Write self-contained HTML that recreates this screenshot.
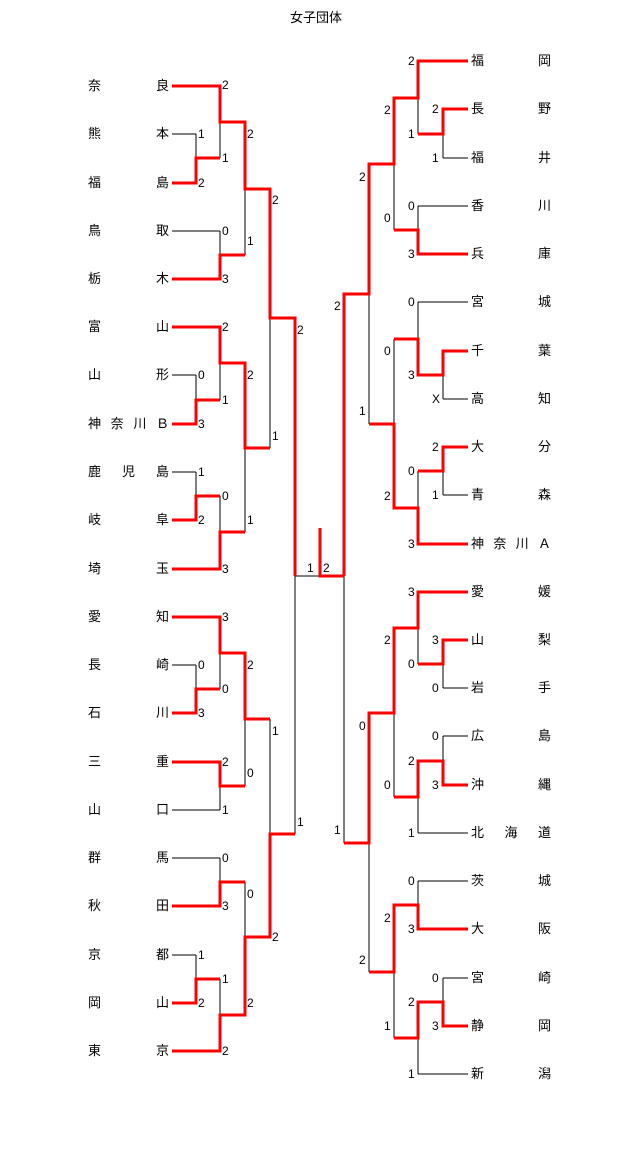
<!DOCTYPE html>
<html><head><meta charset="utf-8"><style>
body{margin:0;background:#fff;width:640px;height:1157px;position:relative;overflow:hidden;font-family:"Liberation Sans","Noto Sans CJK JP",sans-serif;}
.t{position:absolute;font-size:13px;line-height:14px;color:#000;display:flex;justify-content:space-between;}
.l{left:88px;width:81px;}
.r{left:471px;width:80px;}
.s{position:absolute;font-size:12px;line-height:12px;color:#000;}
svg{position:absolute;left:0;top:0}
</style></head><body>
<div class="t" style="left:290px;top:11px">女子団体</div>
<svg width="640" height="1157" fill="none">
<g stroke="#000" stroke-width="1">
<path d="M172 86H220M172 134H196M172 183H196M172 231H220M172 279H220M172 327H220M172 375H196M172 424H196M172 472H196M172 520H196M172 569H220M172 617H220M172 665H196M172 713H196M172 762H220M172 810H220M172 858H220M172 906H220M172 955H196M172 1003H196M172 1051H220"/>
<path d="M196 134V183M220 86V158M220 231V279M245 122V255M196 375V424M220 327V400M196 472V520M220 496V569M245 363V532M270 189V448M196 665V713M220 617V689M220 762V810M245 653V786M220 858V906M196 955V1003M220 979V1051M245 882V1015M270 719V937M295 318V834M295 576H320"/>
<path d="M418 61H468M443 109H468M443 158H468M418 206H468M418 254H468M418 302H468M443 351H468M443 399H468M443 447H468M443 495H468M418 544H468M418 592H468M443 640H468M443 688H468M443 736H468M443 785H468M418 833H468M418 881H468M418 929H468M443 978H468M443 1026H468M418 1074H468"/>
<path d="M443 109V158M418 61V134M418 206V254M394 98V230M443 351V399M418 302V375M443 447V495M418 471V544M394 339V508M369 164V424M443 640V688M418 592V664M443 736V785M418 761V833M394 628V797M418 881V929M443 978V1026M418 1002V1074M394 905V1038M369 713V972M344 294V843"/>
</g>
<g stroke="#f00" stroke-width="3" stroke-linejoin="miter">
<path d="M172 86H220V122H245V189H270V318H295V576"/>
<path d="M172 183H196V158H220"/>
<path d="M172 279H220V255H245"/>
<path d="M172 327H220V363H245V448H270"/>
<path d="M172 424H196V400H220"/>
<path d="M172 520H196V496H220"/>
<path d="M172 569H220V532H245"/>
<path d="M172 617H220V653H245V719H270"/>
<path d="M172 713H196V689H220"/>
<path d="M172 762H220V786H245"/>
<path d="M172 906H220V882H245"/>
<path d="M172 1003H196V979H220"/>
<path d="M172 1051H220V1015H245V937H270V834H295"/>
<path d="M320 528V576H344"/>
<path d="M468 61H418V98H394V164H369V294H344V576"/>
<path d="M468 109H443V134H418"/>
<path d="M468 254H418V230H394"/>
<path d="M468 351H443V375H418V339H394"/>
<path d="M468 447H443V471H418"/>
<path d="M468 544H418V508H394V424H369"/>
<path d="M468 592H418V628H394V713H369V843H344"/>
<path d="M468 640H443V664H418"/>
<path d="M468 785H443V761H418V797H394"/>
<path d="M468 929H418V905H394V972H369"/>
<path d="M468 1026H443V1002H418V1038H394"/>
</g>
</svg>
<!-- left teams -->
<div class="t l" style="top:79px"><span>奈</span><span>良</span></div>
<div class="t l" style="top:127px"><span>熊</span><span>本</span></div>
<div class="t l" style="top:176px"><span>福</span><span>島</span></div>
<div class="t l" style="top:224px"><span>鳥</span><span>取</span></div>
<div class="t l" style="top:272px"><span>栃</span><span>木</span></div>
<div class="t l" style="top:320px"><span>富</span><span>山</span></div>
<div class="t l" style="top:368px"><span>山</span><span>形</span></div>
<div class="t l" style="top:417px"><span>神</span><span>奈</span><span>川</span><span>Ｂ</span></div>
<div class="t l" style="top:465px"><span>鹿</span><span>児</span><span>島</span></div>
<div class="t l" style="top:513px"><span>岐</span><span>阜</span></div>
<div class="t l" style="top:562px"><span>埼</span><span>玉</span></div>
<div class="t l" style="top:610px"><span>愛</span><span>知</span></div>
<div class="t l" style="top:658px"><span>長</span><span>崎</span></div>
<div class="t l" style="top:706px"><span>石</span><span>川</span></div>
<div class="t l" style="top:755px"><span>三</span><span>重</span></div>
<div class="t l" style="top:803px"><span>山</span><span>口</span></div>
<div class="t l" style="top:851px"><span>群</span><span>馬</span></div>
<div class="t l" style="top:899px"><span>秋</span><span>田</span></div>
<div class="t l" style="top:948px"><span>京</span><span>都</span></div>
<div class="t l" style="top:996px"><span>岡</span><span>山</span></div>
<div class="t l" style="top:1044px"><span>東</span><span>京</span></div>
<!-- right teams -->
<div class="t r" style="top:54px"><span>福</span><span>岡</span></div>
<div class="t r" style="top:102px"><span>長</span><span>野</span></div>
<div class="t r" style="top:151px"><span>福</span><span>井</span></div>
<div class="t r" style="top:199px"><span>香</span><span>川</span></div>
<div class="t r" style="top:247px"><span>兵</span><span>庫</span></div>
<div class="t r" style="top:295px"><span>宮</span><span>城</span></div>
<div class="t r" style="top:344px"><span>千</span><span>葉</span></div>
<div class="t r" style="top:392px"><span>高</span><span>知</span></div>
<div class="t r" style="top:440px"><span>大</span><span>分</span></div>
<div class="t r" style="top:488px"><span>青</span><span>森</span></div>
<div class="t r" style="top:537px"><span>神</span><span>奈</span><span>川</span><span>Ａ</span></div>
<div class="t r" style="top:585px"><span>愛</span><span>媛</span></div>
<div class="t r" style="top:633px"><span>山</span><span>梨</span></div>
<div class="t r" style="top:681px"><span>岩</span><span>手</span></div>
<div class="t r" style="top:729px"><span>広</span><span>島</span></div>
<div class="t r" style="top:778px"><span>沖</span><span>縄</span></div>
<div class="t r" style="top:826px"><span>北</span><span>海</span><span>道</span></div>
<div class="t r" style="top:874px"><span>茨</span><span>城</span></div>
<div class="t r" style="top:922px"><span>大</span><span>阪</span></div>
<div class="t r" style="top:971px"><span>宮</span><span>崎</span></div>
<div class="t r" style="top:1019px"><span>静</span><span>岡</span></div>
<div class="t r" style="top:1067px"><span>新</span><span>潟</span></div>
<!-- left scores -->
<div class="s" style="left:198px;top:128px">1</div>
<div class="s" style="left:198px;top:177px">2</div>
<div class="s" style="left:198px;top:369px">0</div>
<div class="s" style="left:198px;top:418px">3</div>
<div class="s" style="left:198px;top:466px">1</div>
<div class="s" style="left:198px;top:514px">2</div>
<div class="s" style="left:198px;top:659px">0</div>
<div class="s" style="left:198px;top:707px">3</div>
<div class="s" style="left:198px;top:949px">1</div>
<div class="s" style="left:198px;top:997px">2</div>
<div class="s" style="left:222px;top:79px">2</div>
<div class="s" style="left:222px;top:152px">1</div>
<div class="s" style="left:222px;top:225px">0</div>
<div class="s" style="left:222px;top:273px">3</div>
<div class="s" style="left:222px;top:321px">2</div>
<div class="s" style="left:222px;top:394px">1</div>
<div class="s" style="left:222px;top:490px">0</div>
<div class="s" style="left:222px;top:563px">3</div>
<div class="s" style="left:222px;top:611px">3</div>
<div class="s" style="left:222px;top:683px">0</div>
<div class="s" style="left:222px;top:756px">2</div>
<div class="s" style="left:222px;top:804px">1</div>
<div class="s" style="left:222px;top:852px">0</div>
<div class="s" style="left:222px;top:900px">3</div>
<div class="s" style="left:222px;top:973px">1</div>
<div class="s" style="left:222px;top:1045px">2</div>
<div class="s" style="left:247px;top:128px">2</div>
<div class="s" style="left:247px;top:235px">1</div>
<div class="s" style="left:247px;top:369px">2</div>
<div class="s" style="left:247px;top:514px">1</div>
<div class="s" style="left:247px;top:659px">2</div>
<div class="s" style="left:247px;top:767px">0</div>
<div class="s" style="left:247px;top:888px">0</div>
<div class="s" style="left:247px;top:997px">2</div>
<div class="s" style="left:272px;top:194px">2</div>
<div class="s" style="left:272px;top:430px">1</div>
<div class="s" style="left:272px;top:725px">1</div>
<div class="s" style="left:272px;top:931px">2</div>
<div class="s" style="left:297px;top:324px">2</div>
<div class="s" style="left:297px;top:816px">1</div>
<div class="s" style="left:307px;top:562px">1</div>
<div class="s" style="left:323px;top:562px">2</div>
<!-- right scores -->
<div class="s" style="left:432px;top:103px">2</div>
<div class="s" style="left:432px;top:152px">1</div>
<div class="s" style="left:432px;top:393px">X</div>
<div class="s" style="left:432px;top:441px">2</div>
<div class="s" style="left:432px;top:489px">1</div>
<div class="s" style="left:432px;top:634px">3</div>
<div class="s" style="left:432px;top:682px">0</div>
<div class="s" style="left:432px;top:730px">0</div>
<div class="s" style="left:432px;top:779px">3</div>
<div class="s" style="left:432px;top:972px">0</div>
<div class="s" style="left:432px;top:1020px">3</div>
<div class="s" style="left:408px;top:55px">2</div>
<div class="s" style="left:408px;top:128px">1</div>
<div class="s" style="left:408px;top:200px">0</div>
<div class="s" style="left:408px;top:248px">3</div>
<div class="s" style="left:408px;top:296px">0</div>
<div class="s" style="left:408px;top:369px">3</div>
<div class="s" style="left:408px;top:465px">0</div>
<div class="s" style="left:408px;top:538px">3</div>
<div class="s" style="left:408px;top:586px">3</div>
<div class="s" style="left:408px;top:658px">0</div>
<div class="s" style="left:408px;top:755px">2</div>
<div class="s" style="left:408px;top:827px">1</div>
<div class="s" style="left:408px;top:875px">0</div>
<div class="s" style="left:408px;top:923px">3</div>
<div class="s" style="left:408px;top:996px">2</div>
<div class="s" style="left:408px;top:1068px">1</div>
<div class="s" style="left:384px;top:104px">2</div>
<div class="s" style="left:384px;top:212px">0</div>
<div class="s" style="left:384px;top:345px">0</div>
<div class="s" style="left:384px;top:490px">2</div>
<div class="s" style="left:384px;top:634px">2</div>
<div class="s" style="left:384px;top:779px">0</div>
<div class="s" style="left:384px;top:912px">2</div>
<div class="s" style="left:384px;top:1020px">1</div>
<div class="s" style="left:359px;top:171px">2</div>
<div class="s" style="left:359px;top:405px">1</div>
<div class="s" style="left:359px;top:720px">0</div>
<div class="s" style="left:359px;top:954px">2</div>
<div class="s" style="left:334px;top:300px">2</div>
<div class="s" style="left:334px;top:824px">1</div>
</body></html>
